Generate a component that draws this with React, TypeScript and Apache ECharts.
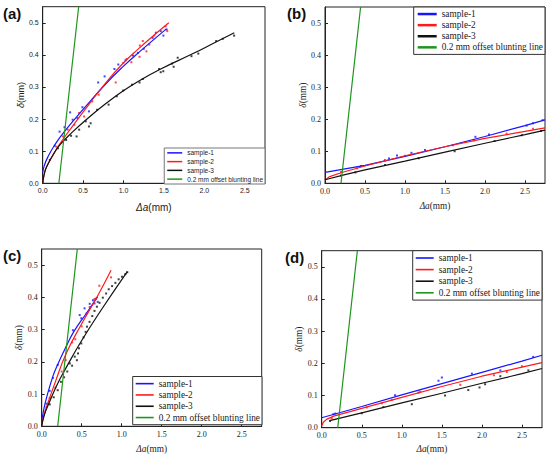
import React, { useEffect, useRef } from "react";
import * as echarts from "echarts";

// ---------- shared ----------
const legendNames = ["sample-1", "sample-2", "sample-3", "0.2 mm offset blunting line"];
const panelLabels = ["(a)", "(b)", "(c)", "(d)"];
const blunting = [[0.2, 0], [0.445, 0.55]];

// ---------- panel (a) ----------
const a_s1_fit = [[0, 0.034], [0.02, 0.055], [0.06, 0.08], [0.15, 0.12], [0.27, 0.162], [0.5, 0.23], [0.77, 0.307], [1.0, 0.365], [1.2, 0.41], [1.53, 0.481]];
const a_s2_fit = [[0, 0], [0.02, 0.03], [0.05, 0.052], [0.13, 0.088], [0.21, 0.122], [0.37, 0.178], [0.57, 0.245], [0.77, 0.31], [0.98, 0.37], [1.18, 0.418], [1.38, 0.462], [1.56, 0.5]];
const a_s3_fit = [[0, 0], [0.02, 0.03], [0.05, 0.052], [0.13, 0.09], [0.21, 0.119], [0.37, 0.16], [0.57, 0.205], [0.77, 0.246], [0.98, 0.285], [1.18, 0.317], [1.46, 0.356], [1.86, 0.404], [2.15, 0.441], [2.37, 0.469]];
const a_s1_pts = [[0.149, 0.117], [0.209, 0.161], [0.27, 0.175], [0.339, 0.221], [0.371, 0.198], [0.431, 0.203], [0.492, 0.237], [0.572, 0.224], [0.686, 0.314], [0.766, 0.333], [0.887, 0.356], [0.935, 0.37], [1.024, 0.383], [1.117, 0.398], [1.178, 0.406], [1.25, 0.419], [1.359, 0.453], [1.4, 0.469], [1.46, 0.474], [1.493, 0.46], [1.533, 0.479]];
const a_s2_pts = [[0.169, 0.114], [0.25, 0.146], [0.31, 0.167], [0.391, 0.182], [0.451, 0.219], [0.512, 0.208], [0.613, 0.255], [0.693, 0.276], [0.903, 0.314], [0.996, 0.375], [1.037, 0.387], [1.097, 0.377], [1.198, 0.394], [1.202, 0.429], [1.283, 0.411], [1.238, 0.443], [1.319, 0.432], [1.38, 0.46], [1.521, 0.489], [1.541, 0.474]];
const a_s3_pts = [[0.088, 0.073], [0.189, 0.109], [0.29, 0.135], [0.351, 0.148], [0.419, 0.146], [0.451, 0.167], [0.532, 0.193], [0.572, 0.177], [0.593, 0.187], [0.673, 0.229], [0.815, 0.245], [0.916, 0.271], [0.996, 0.289], [1.105, 0.307], [1.198, 0.314], [1.239, 0.325], [1.44, 0.356], [1.46, 0.346], [1.492, 0.349], [1.6, 0.373], [1.62, 0.363], [1.67, 0.391], [1.84, 0.396], [1.925, 0.404], [2.146, 0.443], [2.227, 0.45], [2.368, 0.46]];

// ---------- panel (b) ----------
const b_s1_fit = [[0, 0.034], [0.5, 0.056], [1.0, 0.084], [1.5, 0.114], [2.0, 0.146], [2.5, 0.18], [2.75, 0.198]];
const b_s2_fit = [[0, 0.01], [0.05, 0.02], [0.2, 0.033], [0.5, 0.054], [1.0, 0.086], [1.5, 0.114], [2.0, 0.14], [2.5, 0.162], [2.75, 0.173]];
const b_s3_fit = [[0, 0.011], [0.25, 0.027], [0.5, 0.042], [1.0, 0.069], [1.5, 0.097], [2.0, 0.125], [2.5, 0.152], [2.75, 0.166]];
const b_s1_pts = [[0.45, 0.054], [0.8, 0.077], [0.9, 0.087], [1.08, 0.095], [1.25, 0.104], [1.88, 0.145], [2.05, 0.152], [2.52, 0.18], [2.6, 0.187], [2.72, 0.197]];
const b_s2_pts = [[0.2, 0.035], [0.4, 0.047], [0.75, 0.073], [1.0, 0.086], [1.6, 0.119], [1.86, 0.134], [2.27, 0.155], [2.6, 0.17]];
const b_s3_pts = [[0.2, 0.024], [0.38, 0.034], [0.75, 0.057], [1.17, 0.078], [1.62, 0.1], [2.12, 0.132], [2.46, 0.15], [2.7, 0.163]];

// ---------- panel (c) ----------
const c_s1_fit = [[0, 0.015], [0.02, 0.045], [0.06, 0.088], [0.144, 0.158], [0.206, 0.195], [0.31, 0.25], [0.4, 0.293], [0.557, 0.35], [0.7, 0.402]];
const c_s2_fit = [[0, 0], [0.02, 0.028], [0.06, 0.06], [0.165, 0.134], [0.31, 0.228], [0.5, 0.318], [0.7, 0.405], [0.867, 0.484]];
const c_s3_fit = [[0, 0], [0.02, 0.024], [0.05, 0.047], [0.1, 0.077], [0.2, 0.133], [0.29, 0.175], [0.5, 0.266], [0.75, 0.363], [1.07, 0.48]];
const c_s1_pts = [[0.06, 0.07], [0.1, 0.11], [0.14, 0.15], [0.2, 0.19], [0.39, 0.298], [0.475, 0.345], [0.495, 0.335], [0.536, 0.366], [0.6, 0.38], [0.64, 0.391], [0.66, 0.381], [0.68, 0.396], [0.7, 0.386]];
const c_s2_pts = [[0.06, 0.06], [0.1, 0.088], [0.17, 0.12], [0.25, 0.17], [0.3, 0.205], [0.38, 0.26], [0.42, 0.27], [0.5, 0.31], [0.56, 0.35], [0.6, 0.37], [0.66, 0.395], [0.72, 0.436], [0.867, 0.462]];
const c_s3_pts = [[0.1, 0.068], [0.15, 0.09], [0.2, 0.112], [0.24, 0.138], [0.28, 0.152], [0.32, 0.17], [0.351, 0.195], [0.38, 0.188], [0.413, 0.216], [0.44, 0.205], [0.454, 0.226], [0.466, 0.242], [0.495, 0.257], [0.524, 0.276], [0.549, 0.293], [0.566, 0.309], [0.598, 0.324], [0.632, 0.342], [0.66, 0.358], [0.69, 0.371], [0.723, 0.383], [0.764, 0.399], [0.805, 0.412], [0.838, 0.425], [0.88, 0.435], [0.921, 0.445], [0.962, 0.456], [1.003, 0.464], [1.045, 0.472], [1.07, 0.478]];

// ---------- panel (d) ----------
const d_s1_fit = [[0, 0.031], [0.5, 0.066], [1.0, 0.102], [1.5, 0.137], [2.0, 0.172], [2.5, 0.207], [2.75, 0.225]];
const d_s2_fit = [[0, 0.005], [0.02, 0.017], [0.06, 0.026], [0.15, 0.036], [0.5, 0.06], [1.0, 0.094], [1.5, 0.128], [2.0, 0.16], [2.5, 0.188], [2.75, 0.202]];
const d_s3_fit = [[0.1, 0.022], [0.5, 0.046], [1.0, 0.077], [1.5, 0.107], [2.0, 0.138], [2.5, 0.168], [2.75, 0.184]];
const d_s1_pts = [[0.145, 0.042], [0.17, 0.044], [0.916, 0.101], [1.208, 0.109], [1.458, 0.146], [1.5, 0.156], [1.875, 0.168], [2.23, 0.178], [2.64, 0.22]];
const d_s2_pts = [[0.125, 0.029], [0.562, 0.063], [0.75, 0.076], [0.875, 0.086], [1.23, 0.112], [1.73, 0.133], [2.15, 0.163], [2.31, 0.173], [2.5, 0.191]];
const d_s3_pts = [[0.104, 0.021], [0.5, 0.045], [0.77, 0.064], [1.125, 0.073], [1.54, 0.1], [1.83, 0.117], [1.97, 0.125], [2.04, 0.135], [2.23, 0.16], [2.58, 0.178]];

const fits = [
  [a_s1_fit, a_s2_fit, a_s3_fit],
  [b_s1_fit, b_s2_fit, b_s3_fit],
  [c_s1_fit, c_s2_fit, c_s3_fit],
  [d_s1_fit, d_s2_fit, d_s3_fit],
];
const pts = [
  [a_s1_pts, a_s2_pts, a_s3_pts],
  [b_s1_pts, b_s2_pts, b_s3_pts],
  [c_s1_pts, c_s2_pts, c_s3_pts],
  [d_s1_pts, d_s2_pts, d_s3_pts],
];

const COLORS = ["#1515ff", "#ff1a1a", "#111111", "#1e961e"];
const SANS = "Liberation Sans";
const SERIF = "Liberation Serif";

const grids = [
  { left: 42.7, top: 6.7, width: 222.3, height: 176.6 },
  { left: 325, top: 7, width: 220, height: 176.3 },
  { left: 41.7, top: 249, width: 220, height: 177.3 },
  { left: 321.7, top: 250.7, width: 220.3, height: 177 },
];
const fontFam = [SANS, SERIF, SERIF, SERIF];
const tickSize = [7, 8, 8, 8];
const nameSize = [10, 9.3, 9.3, 9.3];
const xNameGap = [19, 18, 18, 17];
const yNameGap = [16.5, 17, 15, 16.5];
const labelPos = [
  { left: 3, top: 6 },
  { left: 287, top: 6 },
  { left: 3, top: 248 },
  { left: 285, top: 250 },
];
const legendCfg = [
  { right: 285, top: 148, itemWidth: 15, itemHeight: 1.5, lh: 8.75, fs: 6.5, pad: [0.5, 2, 0.5, 3], bc: "#777" },
  { right: 5, top: 7, itemWidth: 19, itemHeight: 2.5, lh: 11.1, fs: 9.3, pad: [1.5, 2, 1.5, 4], bc: "#333" },
  { right: 288, top: 376.5, itemWidth: 18, itemHeight: 1.6, lh: 11.3, fs: 9.3, pad: [1.5, 2, 1.5, 3], bc: "#333" },
  { right: 8, top: 250.7, itemWidth: 18, itemHeight: 1.6, lh: 11.6, fs: 9.3, pad: [1.5, 2, 1.5, 3], bc: "#333" },
];

function buildOption() {
  const grid: any[] = [];
  const xAxis: any[] = [];
  const yAxis: any[] = [];
  const series: any[] = [];
  const legend: any[] = [];
  const graphic: any[] = [];

  for (let p = 0; p < 4; p++) {
    const g = grids[p];
    grid.push({
      ...g,
      containLabel: false,
      outerBoundsMode: "none",
      show: true,
      borderColor: "#222",
      borderWidth: 1,
      backgroundColor: "transparent",
    });
    const ff = fontFam[p];
    const common = {
      gridIndex: p,
      type: "value",
      min: 0,
      nameLocation: "middle",
      axisLine: { show: true, lineStyle: { color: "#222", width: 1 } },
      axisTick: { show: true, inside: true, length: 3, lineStyle: { color: "#222" } },
      splitLine: { show: false },
      axisLabel: {
        show: true,
        fontFamily: ff,
        fontSize: tickSize[p],
        color: "#222",
        margin: 4,
        showMaxLabel: false,
        formatter: (v: number) => v.toFixed(1),
      },
    };
    xAxis.push({
      ...common,
      max: 2.75,
      interval: 0.5,
      name: "{i|Δa}(mm)",
      nameGap: xNameGap[p],
      nameTextStyle: {
        fontFamily: ff,
        fontSize: nameSize[p],
        color: "#222",
        rich: { i: { fontFamily: ff, fontSize: nameSize[p], fontStyle: "italic", color: "#222" } },
      },
    });
    yAxis.push({
      ...common,
      max: 0.55,
      interval: 0.1,
      name: "{i|δ}(mm)",
      nameGap: yNameGap[p],
      nameTextStyle: {
        fontFamily: ff,
        fontSize: p === 0 ? 9 : 9.3,
        color: "#222",
        rich: { i: { fontFamily: ff, fontSize: p === 0 ? 9 : 9.3, fontStyle: "italic", color: "#222" } },
      },
    });

    for (let s = 0; s < 3; s++) {
      series.push({
        type: "scatter",
        name: `points-${p}-${s}`,
        xAxisIndex: p,
        yAxisIndex: p,
        data: pts[p][s],
        symbol: "rect",
        symbolSize: 2,
        itemStyle: { color: COLORS[s] },
        silent: true,
        z: 2,
      });
    }
    for (let s = 0; s < 3; s++) {
      series.push({
        type: "line",
        name: legendNames[s],
        xAxisIndex: p,
        yAxisIndex: p,
        data: fits[p][s],
        showSymbol: false,
        symbol: "none",
        smooth: p === 1 || p === 3 ? false : 0.5,
        lineStyle: { color: COLORS[s], width: 1.2 },
        itemStyle: { color: COLORS[s] },
        z: 3,
      });
    }
    series.push({
      type: "line",
      name: legendNames[3],
      xAxisIndex: p,
      yAxisIndex: p,
      data: blunting,
      showSymbol: false,
      symbol: "none",
      lineStyle: { color: COLORS[3], width: 1.2 },
      itemStyle: { color: COLORS[3] },
      z: 3,
    });

    const lc = legendCfg[p];
    legend.push({
      show: true,
      orient: "vertical",
      right: lc.right,
      top: lc.top,
      icon: "rect",
      itemWidth: lc.itemWidth,
      itemHeight: lc.itemHeight,
      itemGap: 0,
      padding: lc.pad,
      borderColor: lc.bc,
      borderWidth: 1,
      backgroundColor: "#fff",
      selectedMode: false,
      textStyle: { fontFamily: fontFam[p], fontSize: lc.fs, lineHeight: lc.lh, color: "#222" },
      data: legendNames,
    });

    graphic.push({
      type: "text",
      left: labelPos[p].left,
      top: labelPos[p].top,
      style: {
        text: panelLabels[p],
        font: `bold 15px ${SANS}`,
        fill: "#111",
      },
    });
  }

  return {
    animation: false,
    backgroundColor: "#fff",
    grid,
    xAxis,
    yAxis,
    legend,
    series,
    graphic,
  };
}

export default function App() {
  const ref = useRef<HTMLDivElement>(null);
  useEffect(() => {
    if (!ref.current) return;
    const chart = echarts.init(ref.current, undefined, { renderer: "svg" });
    chart.setOption(buildOption() as any);
    return () => chart.dispose();
  }, []);
  return (
    <div
      ref={ref}
      style={{ position: "fixed", left: 0, top: 0, width: 550, height: 458, background: "#fff" }}
    />
  );
}
